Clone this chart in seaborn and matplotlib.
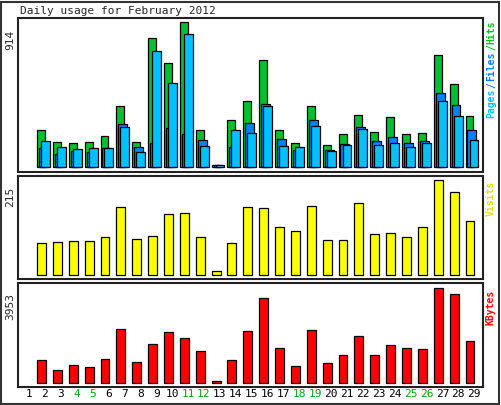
import matplotlib
matplotlib.use("Agg")
import matplotlib.pyplot as plt
import seaborn as sns
import pandas as pd
import numpy as np

days = list(range(1, 30))
hits = [np.nan,233,158,151,158,195,385,158,813,656,914,233,13,296,416,675,233,151,385,139,208,328,221,315,208,214,706,523,321]
files = [np.nan,120,82,101,95,120,271,126,151,246,208,170,13,126,277,397,177,107,296,107,145,252,164,189,151,164,466,391,233]
pages = [np.nan,164,126,113,120,120,252,95,731,530,838,132,13,233,214,385,132,126,258,101,139,240,139,151,126,151,416,321,170]
visits = [np.nan,72,75,77,77,86,154,81,88,138,140,86,9,72,154,152,109,100,156,79,79,163,93,95,86,109,215,188,122]
kbytes = [np.nan,957,541,749,666,999,2247,874,1623,2122,1872,1332,83,957,2164,3537,1456,707,2205,832,1165,1956,1165,1581,1456,1415,3953,3703,1748]
weekend = [4,5,11,12,18,19,25,26]

sns.set_theme(style="white")
plt.rcParams['font.family'] = ['DejaVu Sans Mono']
W, H = 501, 405
fig = plt.figure(figsize=(W/100, H/100), dpi=100)
fig.patch.set_facecolor("white")

def ax_at(top, bottom):
    return fig.add_axes([18/W, 1-bottom/H, 465/W, (bottom-top)/H])

d = np.array(days, dtype=float)

def bars(ax, vals, off, width, color):
    df = pd.DataFrame({"x": d + off, "y": vals}).dropna()
    sns.barplot(data=df, x="x", y="y", native_scale=True, width=width,
                color=color, edgecolor="black", linewidth=0.9, saturation=1, ax=ax)

ax1 = ax_at(18, 172)
bars(ax1, hits, -0.25, 0.5, "#00c030")
bars(ax1, files, -0.1, 0.56, "#0080ff")
bars(ax1, pages, 0.03, 0.56, "#00c0ff")
ax1.set_ylim(-31, 939)

ax2 = ax_at(176, 279)
bars(ax2, visits, -0.22, 0.56, "#ffff00")
ax2.set_ylim(-8.4, 224.7)

ax3 = ax_at(283, 387)
bars(ax3, kbytes, -0.22, 0.56, "#ff0000")
ax3.set_ylim(-154, 4174)

for ax in (ax1, ax2, ax3):
    ax.set_xlim(0.3, 29.6)
    ax.set_xticks([]); ax.set_yticks([])
    ax.set_xlabel(""); ax.set_ylabel("")
    for s in ax.spines.values():
        s.set_color("#222222"); s.set_linewidth(1.5)

for i in days:
    fig.text((29 + (i-1)*15.9)/W, 1-394/H, str(i), ha="center", va="center",
             fontsize=8, color="#00a020" if i in weekend else "black")

fig.text(20/W, 1-11/H, "Daily usage for February 2012", fontsize=8, ha="left", va="center")
fig.text(10/W, 1-40/H, "914", rotation=90, fontsize=8, ha="center", va="center")
fig.text(10/W, 1-197/H, "215", rotation=90, fontsize=8, ha="center", va="center")
fig.text(10/W, 1-307/H, "3953", rotation=90, fontsize=8, ha="center", va="center")

def vtext(s, ybot, color):
    fig.text(491/W, 1-ybot/H, s, rotation=90, fontsize=7, ha="center", va="bottom",
             color=color, weight="bold")
vtext("Pages", 118, "#00c0ff")
vtext("/", 87.5, "#0080ff")
vtext("Files", 81, "#0080ff")
vtext("/", 50.5, "#00c030")
vtext("Hits", 44, "#00c030")
vtext("Visits", 216, "#e0e000")
vtext("KBytes", 325, "#ff0000")

fig.add_artist(plt.Rectangle((1/W, 1/H), 498/W, 402/H, transform=fig.transFigure,
                             fill=False, edgecolor="#333333", linewidth=1.5))
fig.savefig("out.png", dpi=100)
